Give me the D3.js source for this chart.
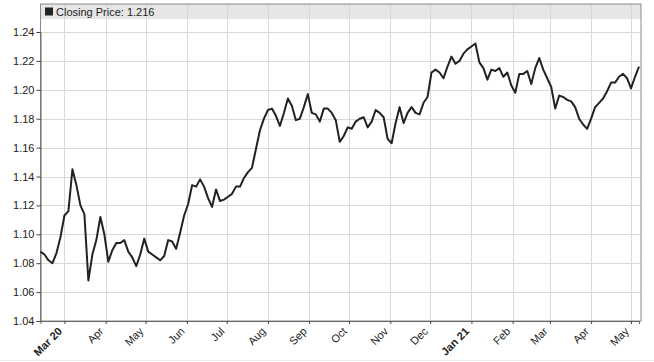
<!DOCTYPE html>
<html>
<head>
<meta charset="utf-8">
<script src="https://cdn.jsdelivr.net/npm/d3@7"></script>
<style>
  body { margin: 0; background: #fff; }
  text { font-family: "Liberation Sans", Arial, sans-serif; }
</style>
</head>
<body>
<svg id="chart" width="654" height="362"></svg>
<script>
  // Closing prices, one reading every 3 days from the first date
  var startDate = "2020-02-12";
  var stepDays = 3;
  var closes = [
    1.088, 1.086, 1.082, 1.080, 1.087, 1.098, 1.113, 1.116, 1.145, 1.134,
    1.120, 1.114, 1.068, 1.086, 1.096, 1.112, 1.100, 1.081, 1.089, 1.094,
    1.094, 1.096, 1.088, 1.084, 1.078, 1.086, 1.097, 1.088, 1.086, 1.084,
    1.082, 1.085, 1.096, 1.095, 1.090, 1.101, 1.113, 1.121, 1.134, 1.133,
    1.138, 1.133, 1.125, 1.119, 1.131, 1.123, 1.124, 1.126, 1.128, 1.133,
    1.133, 1.139, 1.143, 1.146, 1.159, 1.172, 1.180, 1.186, 1.187, 1.182,
    1.175, 1.184, 1.194, 1.189, 1.179, 1.180, 1.188, 1.197, 1.184, 1.183,
    1.178, 1.187, 1.187, 1.184, 1.179, 1.164, 1.168, 1.174, 1.173, 1.178,
    1.180, 1.181, 1.174, 1.178, 1.186, 1.184, 1.181, 1.166, 1.163, 1.177,
    1.188, 1.177, 1.184, 1.188, 1.184, 1.183, 1.191, 1.195, 1.212, 1.214,
    1.212, 1.208, 1.216, 1.223, 1.218, 1.220, 1.225, 1.228, 1.230, 1.232,
    1.219, 1.215, 1.207, 1.214, 1.213, 1.215, 1.209, 1.212, 1.203, 1.198,
    1.211, 1.211, 1.213, 1.204, 1.215, 1.222, 1.214, 1.208, 1.202, 1.187,
    1.196, 1.195, 1.193, 1.192, 1.188, 1.180, 1.176, 1.173, 1.180, 1.188,
    1.191, 1.194, 1.199, 1.205, 1.205, 1.209, 1.211, 1.208, 1.201, 1.209,
    1.216
  ];
  var yTicks = [1.04, 1.06, 1.08, 1.10, 1.12, 1.14, 1.16, 1.18, 1.20, 1.22, 1.24];
  var legendLabel = "Closing Price: ";

  var parse = d3.timeParse("%Y-%m-%d");
  var t0 = parse(startDate);
  var data = closes.map(function (v, i) {
    return { date: d3.timeDay.offset(t0, i * stepDays), value: v };
  });

  var frame = { left: 40.5, right: 641, top: 4, bottom: 321 };
  var svg = d3.select("#chart");

  var x = d3.scaleTime()
    .domain(d3.extent(data, function (d) { return d.date; }))
    .range([40.5, 639]);
  var y = d3.scaleLinear()
    .domain([1.04, 1.24])
    .range([321, 32]);

  var monthTicks = d3.timeMonth.range(d3.timeMonth.ceil(x.domain()[0]), x.domain()[1]);

  // legend band
  svg.append("rect")
    .attr("x", frame.left).attr("y", frame.top)
    .attr("width", frame.right - frame.left).attr("height", 15)
    .attr("fill", "#e6e6e6");

  // grid
  svg.append("g").selectAll("line").data(monthTicks).enter().append("line")
    .attr("x1", function (d) { return Math.round(x(d)) + 0.5; })
    .attr("x2", function (d) { return Math.round(x(d)) + 0.5; })
    .attr("y1", frame.top).attr("y2", frame.bottom)
    .attr("stroke", "#d9d9d9");
  svg.append("g").selectAll("line").data(yTicks).enter().append("line")
    .attr("x1", frame.left).attr("x2", frame.right)
    .attr("y1", function (d) { return Math.round(y(d)) + 0.5; })
    .attr("y2", function (d) { return Math.round(y(d)) + 0.5; })
    .attr("stroke", "#d9d9d9");

  // frame
  svg.append("rect")
    .attr("x", frame.left).attr("y", frame.top)
    .attr("width", frame.right - frame.left).attr("height", frame.bottom - frame.top)
    .attr("fill", "none").attr("stroke", "#8a8a8a");

  // y axis
  var yAxis = svg.append("g")
    .attr("transform", "translate(" + frame.left + ",0)")
    .call(d3.axisLeft(y).tickValues(yTicks).tickFormat(d3.format(".2f")).tickSize(4).tickPadding(2));
  yAxis.select(".domain").attr("stroke", "#666");
  yAxis.selectAll(".tick line").attr("stroke", "#444");
  yAxis.selectAll("text").attr("font-size", 11).attr("fill", "#222")
    .style("font-family", "'Liberation Sans', Arial, sans-serif");

  // x axis
  var first = monthTicks[0];
  var isYearLabel = function (d) { return d === first || d.getMonth() === 0; };
  var xAxis = svg.append("g")
    .attr("transform", "translate(0," + frame.bottom + ")")
    .call(d3.axisBottom(x).tickValues(monthTicks).tickSize(3)
      .tickFormat(function (d) {
        return isYearLabel(d) ? d3.timeFormat("%b %y")(d) : d3.timeFormat("%b")(d);
      }));
  xAxis.select(".domain").attr("stroke", "#666");
  xAxis.selectAll(".tick line").attr("stroke", "#444");
  xAxis.selectAll("text")
    .attr("font-size", 11).attr("fill", "#222")
    .style("font-family", "'Liberation Sans', Arial, sans-serif")
    .attr("font-weight", function (d) { return isYearLabel(d) ? "bold" : "normal"; })
    .attr("text-anchor", "end")
    .attr("dy", null).attr("y", 0)
    .attr("transform", "translate(-2,11) rotate(-45)");

  // price line
  var line = d3.line()
    .x(function (d) { return x(d.date); })
    .y(function (d) { return y(d.value); });
  svg.append("path")
    .datum(data)
    .attr("d", line)
    .attr("fill", "none")
    .attr("stroke", "#222")
    .attr("stroke-width", 2)
    .attr("stroke-linejoin", "round");

  // legend
  svg.append("rect")
    .attr("x", 45).attr("y", 7.5).attr("width", 8).attr("height", 8)
    .attr("fill", "#222");
  svg.append("text")
    .attr("x", 56).attr("y", 16)
    .attr("font-size", 11).attr("fill", "#222")
    .text(legendLabel + d3.format(".3f")(closes[closes.length - 1]));

  // bottom rule of the page
  svg.append("line")
    .attr("x1", 0).attr("x2", 654).attr("y1", 360.5).attr("y2", 360.5)
    .attr("stroke", "#eeeeee");
</script>
</body>
</html>
